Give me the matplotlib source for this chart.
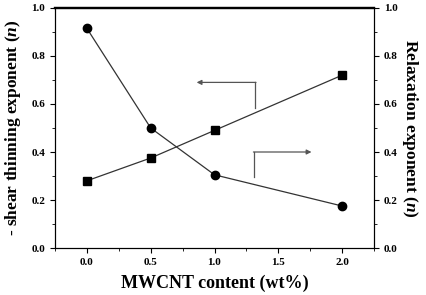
import matplotlib
matplotlib.use("Agg")
import matplotlib.pyplot as plt
from matplotlib.ticker import MultipleLocator

x = [0.0, 0.5, 1.0, 2.0]
shear_n = [0.28, 0.375, 0.49, 0.72]
relax_n = [0.915, 0.50, 0.305, 0.175]

plt.rcParams['font.family'] = ['Liberation Serif', 'DejaVu Serif']
plt.rcParams['mathtext.fontset'] = 'custom'
plt.rcParams['mathtext.it'] = 'Liberation Serif:italic:bold'
plt.rcParams['mathtext.rm'] = 'Liberation Serif:bold'

fig = plt.figure(figsize=(4.27, 2.95), dpi=100)
ax = fig.add_axes([0.1288, 0.1593, 0.7471, 0.8136])
ax2 = ax.twinx()

ax.plot(x, shear_n, color='#333333', lw=0.9, marker='s', ms=5.5, mfc='black', mec='black')
ax2.plot(x, relax_n, color='#333333', lw=0.9, marker='o', ms=6, mfc='black', mec='black')

for a in (ax, ax2):
    a.set_ylim(0, 1.0)
    a.yaxis.set_major_locator(MultipleLocator(0.2))
    a.yaxis.set_minor_locator(MultipleLocator(0.1))
ax.set_xlim(-0.25, 2.25)
ax.xaxis.set_major_locator(MultipleLocator(0.5))
ax.xaxis.set_minor_locator(MultipleLocator(0.25))

ax.tick_params(axis='both', which='major', direction='out', length=3.5, width=0.8, labelsize=8)
ax.tick_params(axis='both', which='minor', direction='out', length=2, width=0.6)
ax2.tick_params(axis='y', which='major', direction='out', length=3.5, width=0.8, labelsize=8)
ax2.tick_params(axis='y', which='minor', direction='out', length=2, width=0.6)

for a in (ax, ax2):
    for lab in a.get_xticklabels() + a.get_yticklabels():
        lab.set_fontweight('bold')
ax.yaxis.set_major_formatter(matplotlib.ticker.FormatStrFormatter('%.1f'))
ax2.yaxis.set_major_formatter(matplotlib.ticker.FormatStrFormatter('%.1f'))
ax.xaxis.set_major_formatter(matplotlib.ticker.FormatStrFormatter('%.1f'))

for a in (ax, ax2):
    for s in a.spines.values():
        s.set_linewidth(0.8)
    a.spines['top'].set_linewidth(1.6)

ax.set_xlabel('MWCNT content (wt%)', fontsize=13, fontweight='bold', labelpad=6)
ax.set_ylabel('- shear thinning exponent ($n$)', fontsize=12.5, fontweight='bold', labelpad=6)
ax2.set_ylabel('Relaxation exponent ($n$)', fontsize=12.5, fontweight='bold', rotation=270, labelpad=16)

# pointer arrows
ax.plot([1.32, 1.32], [0.583, 0.69], color='#555555', lw=0.9)
ax.annotate('', xy=(0.86, 0.69), xytext=(1.325, 0.69),
            arrowprops=dict(arrowstyle='-|>', color='#555555', lw=0.9, mutation_scale=7, shrinkA=0, shrinkB=0))
ax.plot([1.31, 1.31], [0.296, 0.40], color='#555555', lw=0.9)
ax.annotate('', xy=(1.76, 0.40), xytext=(1.305, 0.40),
            arrowprops=dict(arrowstyle='-|>', color='#555555', lw=0.9, mutation_scale=7, shrinkA=0, shrinkB=0))

fig.savefig('out.png', dpi=100)
